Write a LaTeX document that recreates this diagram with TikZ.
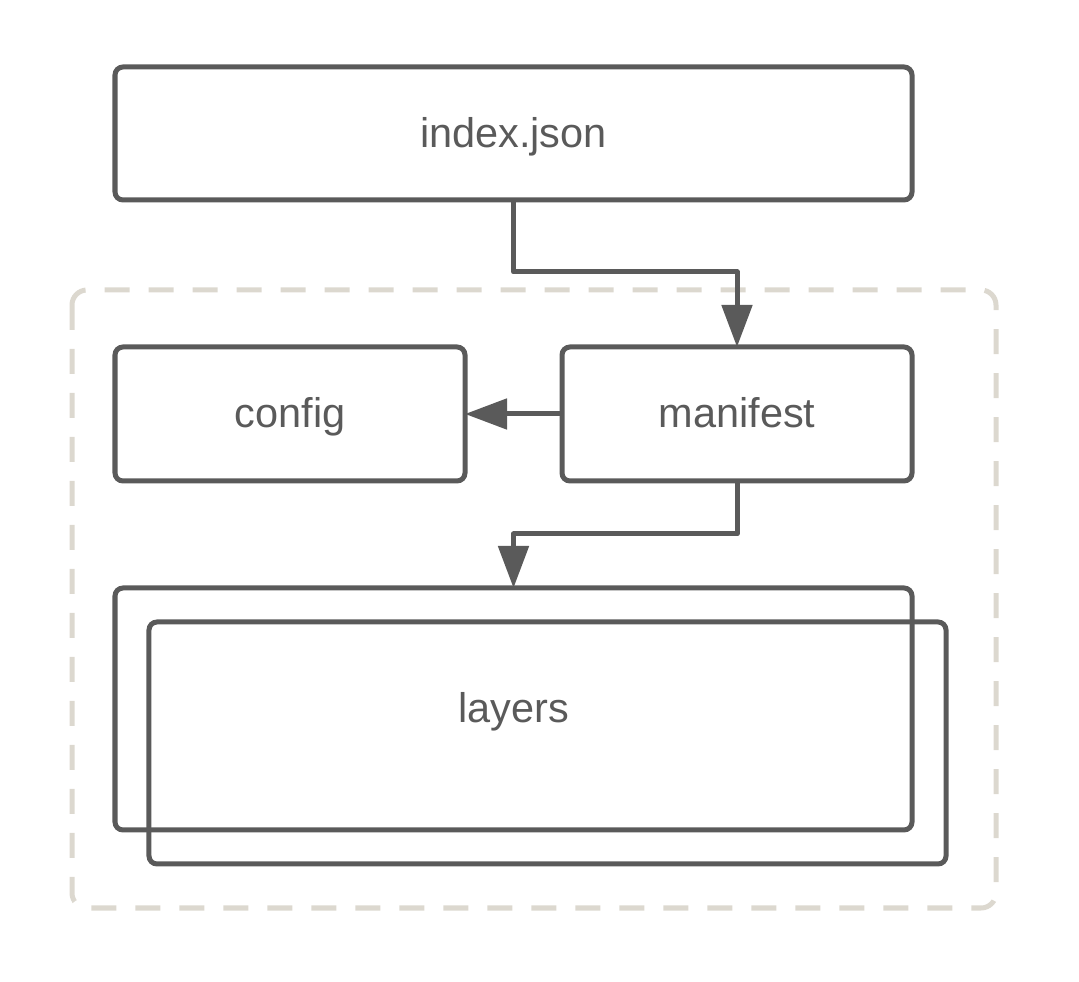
\documentclass[tikz,border=0pt]{standalone}
\usepackage{fontspec}
\setmainfont{Liberation Sans}
\usepackage{xcolor}
\usepackage{tikz}
\usetikzlibrary{arrows.meta,positioning,calc}

\definecolor{inkgray}{HTML}{5A5A5A}
\definecolor{groupgray}{HTML}{DCD8CF}

\begin{document}
\begin{tikzpicture}[
  every node/.style={font=\fontsize{11.8}{14}\selectfont, text=inkgray},
  box/.style={rectangle, draw=inkgray, line width=0.05cm, rounded corners=0.08cm, align=center, inner sep=0pt, outer sep=0pt, text height=1.92ex, text depth=0.45ex},
  widebox/.style={box, minimum width=7.97cm, minimum height=1.33cm},
  smallbox/.style={box, minimum width=3.50cm, minimum height=1.34cm},
  layerbox/.style={box, minimum width=7.97cm, minimum height=2.42cm},
  group/.style={draw=groupgray, line width=0.05cm, dash pattern=on 0.25cm off 0.19cm, rounded corners=0.15cm},
  arrow/.style={-{Triangle[length=0.42cm, width=0.3cm]}, draw=inkgray, line width=0.05cm, line join=round}
]
\useasboundingbox (0,0) rectangle (10.79,-9.82);

% Top level index
\node[widebox] (index) at (5.135,-1.335) {index.json};

% Image contents
\node[smallbox, below right=1.47cm and 0cm of index.south west] (config) {config};
\node[smallbox, below left=1.47cm and 0cm of index.south east] (manifest) {manifest};
\node[layerbox, below right=1.07cm and 0cm of config.south west] (layers) {layers};
\node[layerbox, below right=0.34cm and 0.34cm of layers.north west] (layersback) {};

% Dashed group round the image
\draw[group] ($(config.north west)+(-0.43,0.57)$) rectangle ($(layersback.south east)+(0.50,-0.44)$);

% Flow arrows
\draw[arrow] (index.south) -- ++(0,-0.72) -| (manifest.north);
\draw[arrow] (manifest.west) -- (config.east);
\draw[arrow] (manifest.south) -- ++(0,-0.53) -| (layers.north);

\end{tikzpicture}
\end{document}
